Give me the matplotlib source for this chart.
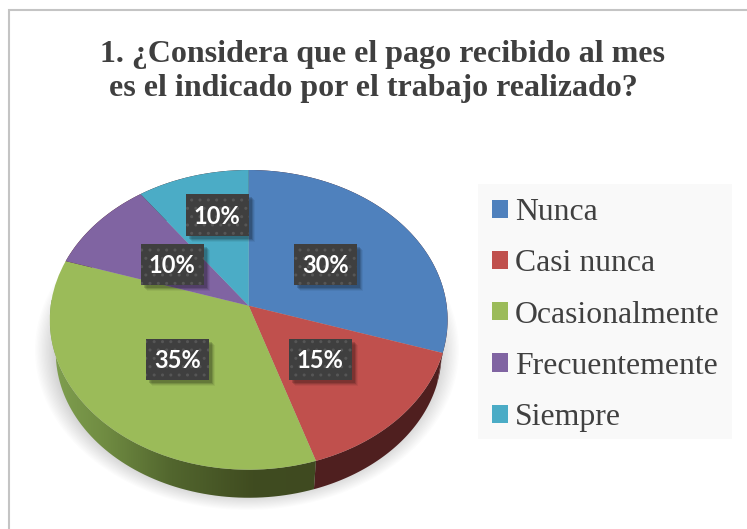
import numpy as np
import matplotlib
matplotlib.use("Agg")
import matplotlib.pyplot as plt
from matplotlib.path import Path
from matplotlib.patches import PathPatch, Rectangle, Ellipse
from matplotlib.transforms import Transform

categories = ["Nunca", "Casi nunca", "Ocasionalmente", "Frecuentemente", "Siempre"]
values = [30, 15, 35, 10, 10]
labels = ["30%", "15%", "35%", "10%", "10%"]
colors = ["#4f81bd", "#c0504d", "#9bbb59", "#8064a2", "#4bacc6"]
title_lines = ["1. ¿Considera que el pago recibido al mes", "es el indicado por el trabajo realizado?"]
title_xy = [(383, 54.5), (373.5, 88.5)]
label_xy = [(325.3, 264.3), (320.3, 359.3), (177.3, 359.3), (172.3, 264.3), (217.3, 215.0)]

W, H = 747, 529
CX, CY, A, B, K = 248.7, 305.7, 198.0, 148.5, 0.0944
SCALE, DY = 0.97, 33.0


def project(x, y, scale=1.0, dy=0.0):
    """Tilted disc: unit circle to pixel coordinates (y down)."""
    yd = -y
    d = 1 - K * yd
    return CX + scale * A * x / d, CY + dy + scale * B * yd / d


class Tilt(Transform):
    input_dims = output_dims = 2
    is_affine = False

    def transform_non_affine(self, pts):
        pts = np.asarray(pts, float)
        px, py = project(pts[:, 0], pts[:, 1])
        return np.column_stack([px, py])


fig = plt.figure(figsize=(W / 100, H / 100), dpi=100, facecolor="white")
ax = fig.add_axes([0, 0, 1, 1])

wedges, _ = ax.pie(values, colors=colors, startangle=90, counterclock=False)
tilt = Tilt()
for w in wedges:
    w.set_transform(tilt + ax.transData)
    w.set_zorder(5)
    w.set_linewidth(0)

ax.set_aspect("auto")
ax.set_xlim(0, W)
ax.set_ylim(H, 0)
ax.axis("off")

# outer frame: only the left and top edges fall inside the image
ax.plot([9, 9, W], [H, 10, 10], color="#c4c4c4", lw=1.5, zorder=0, solid_joinstyle="miter")

# soft shadow under the pie
for s in np.linspace(1.0, 0.85, 24):
    ax.add_patch(Ellipse((247, 350), 2 * 212 * s, 2 * 160 * s, fc="black", ec="none", alpha=0.011, zorder=1))

# side wall
fr = np.cumsum([0] + values) / sum(values)
for i in range(5):
    t = np.linspace(fr[i], fr[i + 1], 80) * 2 * np.pi
    xt, yt = project(np.sin(t), np.cos(t))
    xb, yb = project(np.sin(t), np.cos(t), SCALE, DY)
    poly = np.column_stack([np.r_[xt, xb[::-1]], np.r_[yt, yb[::-1]]])
    patch = PathPatch(Path(poly), fc="#4f1f1f" if i != 2 else "none", ec="none", zorder=3)
    ax.add_patch(patch)
    if i == 2:
        ramp_x = np.linspace(0, 1, 256)
        stops_x = [0, 0.2, 0.45, 0.75, 1]
        rr = np.interp(ramp_x, stops_x, [0x80, 0x70, 0x52, 0x40, 0x3f])
        gg = np.interp(ramp_x, stops_x, [0xa0, 0x8c, 0x66, 0x4c, 0x4a])
        bb = np.interp(ramp_x, stops_x, [0x50, 0x42, 0x2e, 0x20, 0x20])
        grad = np.dstack([rr, gg, bb]).reshape(1, 256, 3) / 255
        im = ax.imshow(grad, extent=(50, 320, 510, 300), aspect="auto", zorder=3)
        im.set_clip_path(patch)

# data labels
for (x, y), s in zip(label_xy, labels):
    bw, bh = 63, 41.5
    for off, a in [(6, 0.05), (5, 0.08), (4, 0.12), (3, 0.15)]:
        ax.add_patch(Rectangle((x - bw / 2 + off, y - bh / 2 + off), bw, bh, fc="black", ec="none", alpha=a, zorder=6))
    ax.add_patch(Rectangle((x - bw / 2, y - bh / 2), bw, bh, fc="#3f3f3f", ec="#565656", lw=0, hatch="..", zorder=7))
    ax.text(x, y + 1, s, color="white", fontsize=17, fontweight="bold", family="Lato", ha="center", va="center", zorder=8)

# title
for (x, y), s in zip(title_xy, title_lines):
    ax.text(x, y, s, family="Liberation Serif", fontweight="bold", fontsize=23.0, color="#3f3f3f",
            ha="center", va="center", zorder=9)

# legend
ax.add_patch(Rectangle((478, 184), 253.7, 255.3, fc="#f9f9f9", ec="none", zorder=8))
leg = ax.legend(wedges, categories, loc="upper left", bbox_to_anchor=(478, 184), bbox_transform=ax.transData,
                prop={"family": "Liberation Serif", "size": 22.9}, labelcolor="#404040",
                frameon=False, handlelength=0.5, handleheight=0.5, handletextpad=0.22, borderpad=0.44,
                borderaxespad=0, labelspacing=0.70)
leg.set_zorder(9)

fig.savefig("out.png", dpi=100)
